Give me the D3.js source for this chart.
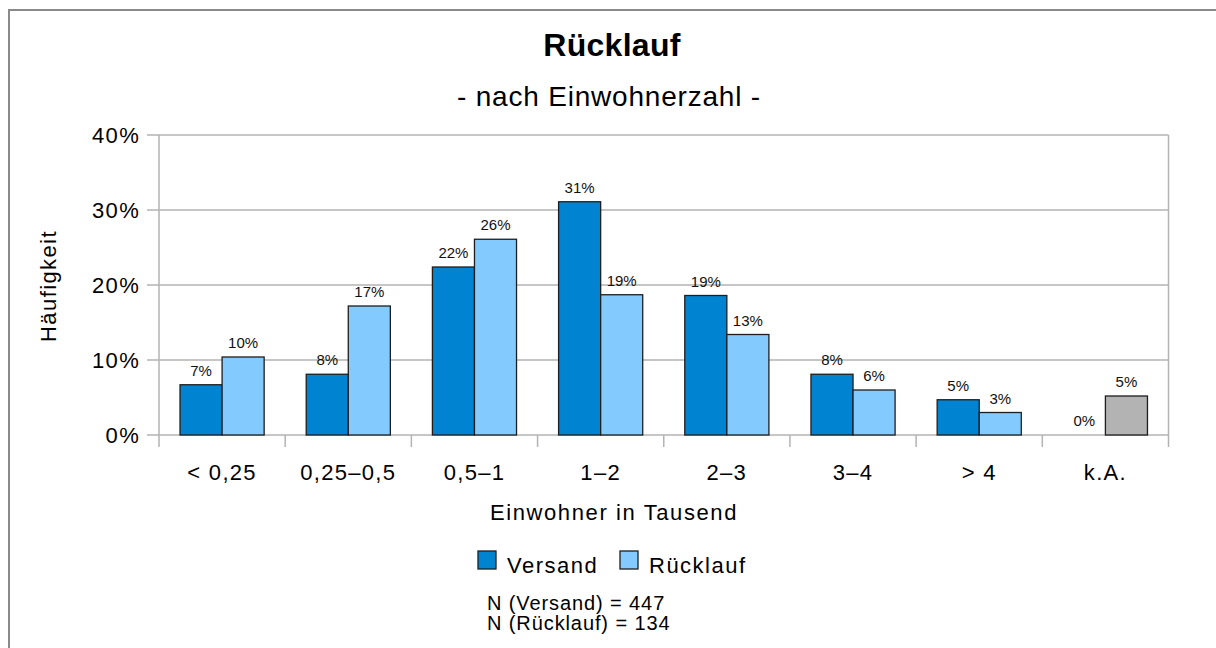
<!DOCTYPE html>
<html>
<head>
<meta charset="utf-8">
<script src="https://cdn.jsdelivr.net/npm/d3@7"></script>
<style>
  html, body { margin: 0; background: #fff; overflow: hidden; }
  svg { display: block; }
  text { font-family: "Liberation Sans", Arial, sans-serif; fill: #000; }
</style>
</head>
<body>
<div class="chart"></div>
<script>

var categories = ["< 0,25", "0,25\u20130,5", "0,5\u20131", "1\u20132", "2\u20133", "3\u20134", "> 4", "k.A."];
var seriesNames = ["Versand", "R\u00fccklauf"];
var versand = [0.067, 0.081, 0.224, 0.311, 0.186, 0.081, 0.047, 0];
var ruecklauf = [0.104, 0.172, 0.261, 0.187, 0.134, 0.060, 0.030, 0.052];
var yTicks = [0, 0.1, 0.2, 0.3, 0.4];
var nLines = ["N (Versand) = 447", "N (R\u00fccklauf) = 134"];

function renderChart(el) {
  var W = 1216, H = 648;
  var colors = ["#0084d1", "#83caff"];
  var kaColor = "#b3b3b3";
  var gridColor = "#b3b3b3";

  var left = 159, right = 1168.5, top = 135, bottom = 435;

  var svg = d3.select(el).append("svg")
      .attr("width", W)
      .attr("height", H);

  // outer frame: only top and left edges are in view
  svg.append("path")
      .attr("d", "M9," + H + "V10H" + W)
      .attr("fill", "none")
      .attr("stroke", "#8a8a8a")
      .attr("stroke-width", 2);

  var x = d3.scaleBand()
      .domain(categories)
      .range([left, right])
      .padding(0);
  var xs = d3.scaleBand()
      .domain(seriesNames)
      .range([0, x.bandwidth()])
      .paddingInner(0)
      .paddingOuter(0.5);
  var y = d3.scaleLinear()
      .domain([0, 0.4])
      .range([bottom, top]);

  // gridlines + y ticks
  svg.selectAll(".grid")
      .data(yTicks)
    .enter().append("line")
      .attr("class", "grid")
      .attr("x1", left - 12)
      .attr("x2", right)
      .attr("y1", function(d) { return y(d); })
      .attr("y2", function(d) { return y(d); })
      .attr("stroke", gridColor)
      .attr("stroke-width", 1.5);

  svg.selectAll(".ytick")
      .data(yTicks)
    .enter().append("text")
      .attr("class", "ytick")
      .attr("x", 140)
      .attr("y", function(d) { return y(d); })
      .attr("dy", "0.36em")
      .attr("text-anchor", "end")
      .style("font-size", "22px")
      .style("letter-spacing", "1.3px")
      .text(d3.format(".0%"));

  // vertical frame lines and category ticks
  var bounds = categories.map(function(c) { return x(c); }).concat([right]);
  svg.selectAll(".vline")
      .data(bounds)
    .enter().append("line")
      .attr("class", "vline")
      .attr("x1", function(d) { return d; })
      .attr("x2", function(d) { return d; })
      .attr("y1", function(d, i) { return (i == 0 || i == bounds.length - 1) ? top : bottom; })
      .attr("y2", bottom + 12)
      .attr("stroke", gridColor)
      .attr("stroke-width", 1.5);

  var rows = [versand, ruecklauf];
  var bars = [];
  rows.forEach(function(vals, s) {
    vals.forEach(function(v, i) {
      bars.push({cat: categories[i], series: seriesNames[s], s: s, value: v});
    });
  });

  svg.selectAll(".bar")
      .data(bars.filter(function(d) { return d.value > 0; }))
    .enter().append("rect")
      .attr("class", "bar")
      .attr("x", function(d) { return x(d.cat) + xs(d.series); })
      .attr("width", xs.bandwidth())
      .attr("y", function(d) { return y(d.value); })
      .attr("height", function(d) { return y(0) - y(d.value); })
      .attr("fill", function(d) { return (d.cat == "k.A." && d.s == 1) ? kaColor : colors[d.s]; })
      .attr("stroke", "#1e1e1e")
      .attr("stroke-width", 1.3);

  svg.selectAll(".lbl")
      .data(bars)
    .enter().append("text")
      .attr("class", "lbl")
      .attr("x", function(d) { return x(d.cat) + xs(d.series) + xs.bandwidth() / 2; })
      .attr("y", function(d) { return y(d.value) - 9; })
      .attr("text-anchor", "middle")
      .style("font-size", "15px")
      .style("fill", "#111")
      .text(function(d) { return d3.format(".0%")(d.value); });

  // x tick labels
  svg.selectAll(".xtick")
      .data(categories)
    .enter().append("text")
      .attr("class", "xtick")
      .attr("x", function(d) { return x(d) + x.bandwidth() / 2; })
      .attr("y", 480)
      .attr("text-anchor", "middle")
      .style("font-size", "22px")
      .style("letter-spacing", "1.3px")
      .text(function(d) { return d; });

  // titles
  svg.append("text")
      .attr("x", 612).attr("y", 56)
      .attr("text-anchor", "middle")
      .style("font-size", "32px")
      .style("font-weight", "bold")
      .style("letter-spacing", "0.3px")
      .text("R\u00fccklauf");

  svg.append("text")
      .attr("x", 609).attr("y", 106)
      .attr("text-anchor", "middle")
      .style("font-size", "28px")
      .style("letter-spacing", "0.8px")
      .text("- nach Einwohnerzahl -");

  svg.append("text")
      .attr("transform", "translate(56,286) rotate(-90)")
      .attr("text-anchor", "middle")
      .style("font-size", "22px")
      .style("letter-spacing", "1.4px")
      .text("H\u00e4ufigkeit");

  svg.append("text")
      .attr("x", 614).attr("y", 520)
      .attr("text-anchor", "middle")
      .style("font-size", "22px")
      .style("letter-spacing", "1.6px")
      .text("Einwohner in Tausend");

  // legend
  var legendX = [478, 620];
  var legend = svg.selectAll(".legend")
      .data(seriesNames)
    .enter().append("g")
      .attr("class", "legend")
      .attr("transform", function(d, i) { return "translate(" + legendX[i] + ",551)"; });
  legend.append("rect")
      .attr("width", 18).attr("height", 18)
      .attr("fill", function(d, i) { return colors[i]; })
      .attr("stroke", "#1e1e1e")
      .attr("stroke-width", 1.3);
  legend.append("text")
      .attr("x", 29).attr("y", 22)
      .style("font-size", "22px")
      .style("letter-spacing", "1.5px")
      .text(function(d) { return d; });

  svg.selectAll(".nline")
      .data(nLines)
    .enter().append("text")
      .attr("class", "nline")
      .attr("x", 487)
      .attr("y", function(d, i) { return 610 + i * 20; })
      .style("font-size", "20px")
      .style("letter-spacing", "0.9px")
      .text(function(d) { return d; });
}

renderChart(".chart");
</script>
</body>
</html>
